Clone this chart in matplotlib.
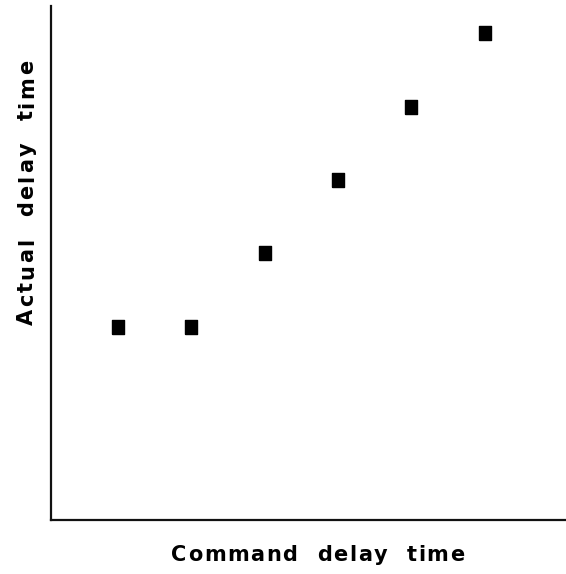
import matplotlib
matplotlib.use("Agg")
import matplotlib.pyplot as plt
from matplotlib.font_manager import FontProperties, findfont
from matplotlib.ft2font import FT2Font

# command delay vs actual delay (arbitrary units, no ticks in the original)
command_delay = [1, 2, 3, 4, 5, 6]
actual_delay = [2, 2, 3, 4, 5, 6]

x_label = "Command  delay  time"
y_label = "Actual  delay  time"

W, H, DPI = 566, 574, 100
LABEL_FONT = FontProperties(family="DejaVu Sans", weight="bold", size=15)


def advances_px(s, prop):
    font = FT2Font(findfont(prop))
    font.set_size(prop.get_size_in_points(), 72)
    return [font.load_char(ord(c)).linearHoriAdvance / 65536 * DPI / 72 for c in s]


def tracked_text(fig, s, center_px, baseline_px, tracking, vertical=False):
    # the scan uses slightly letter-spaced type, so place glyphs one by one
    adv = advances_px(s, LABEL_FONT)
    total = sum(adv) + tracking * (len(s) - 1)
    offset = 0.0
    for ch, a in zip(s, adv):
        if ch != " ":
            if vertical:
                # reads bottom to top
                y = center_px + total / 2 - offset
                fig.text(baseline_px / W, 1 - y / H, ch, fontproperties=LABEL_FONT,
                         rotation=90, rotation_mode="anchor", ha="left", va="baseline")
            else:
                x = center_px - total / 2 + offset
                fig.text(x / W, 1 - baseline_px / H, ch, fontproperties=LABEL_FONT,
                         ha="left", va="baseline")
        offset += a + tracking


fig = plt.figure(figsize=(W / DPI, H / DPI), dpi=DPI)
ax = fig.add_axes([51 / W, 54 / H, 515 / W, 514 / H])

# slightly tall rectangle marker, as in the scan
rect = [(-0.42, -0.5), (0.42, -0.5), (0.42, 0.5), (-0.42, 0.5), (-0.42, -0.5)]
ax.plot(command_delay, actual_delay, linestyle="none", marker=rect,
        markersize=9.5, color="black")

ax.set_xlim(0.086, 7.11)
ax.set_ylim(-0.63, 6.37)
ax.set_xticks([])
ax.set_yticks([])
for side in ("top", "right"):
    ax.spines[side].set_visible(False)
for side in ("left", "bottom"):
    ax.spines[side].set_linewidth(1.6)
    ax.spines[side].set_color("#111111")

tracked_text(fig, x_label, 317.5, 561, tracking=1.6)
tracked_text(fig, y_label, 192.5, 33, tracking=2.5, vertical=True)

fig.savefig("out.png", dpi=DPI)
